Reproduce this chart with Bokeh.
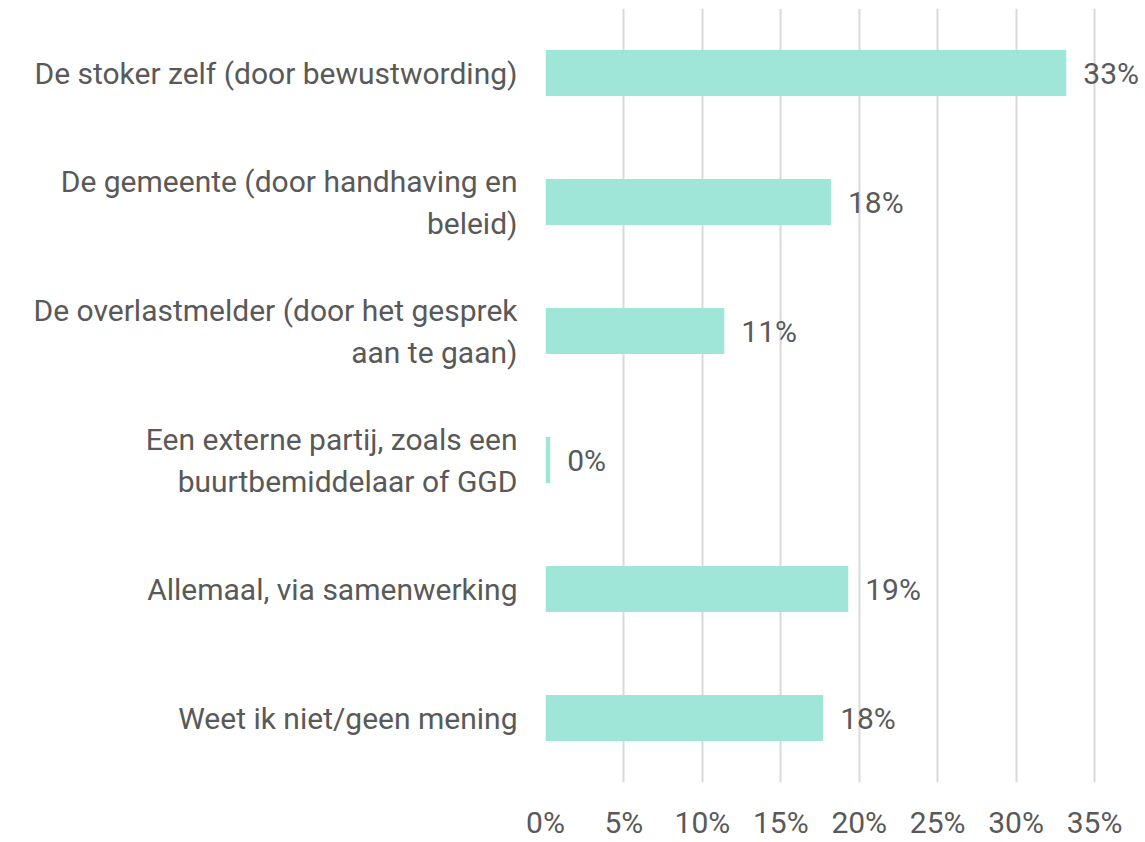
from bokeh.plotting import figure
from bokeh.models import FactorRange, Range1d, FixedTicker, CustomJSTickFormatter
from bokeh.core.properties import value
from bokeh.embed import file_html
from bokeh.resources import INLINE

categories = [
    "De stoker zelf (door bewustwording)",
    "De gemeente (door handhaving en\nbeleid)",
    "De overlastmelder (door het gesprek\naan te gaan)",
    "Een externe partij, zoals een\nbuurtbemiddelaar of GGD",
    "Allemaal, via samenwerking",
    "Weet ik niet/geen mening",
]
values = [33.2, 18.2, 11.4, 0.3, 19.3, 17.7]
value_labels = ["33%", "18%", "11%", "0%", "19%", "18%"]
x_ticks = [0, 5, 10, 15, 20, 25, 30, 35]

FONT = "Roboto"
TEXT_COLOR = "#595959"
FS = "30px"

p = figure(
    width=1145, height=842,
    y_range=FactorRange(factors=categories[::-1], range_padding=0),
    x_range=Range1d(0, 38.25),
    output_backend="svg", toolbar_location=None,
    min_border_left=545, min_border_right=0, min_border_top=8, min_border_bottom=59,
)
p.outline_line_color = None
p.background_fill_color = "white"
p.border_fill_color = "white"

p.hbar(y=categories, right=values, left=0, height=0.355, color="#a0e6d8", line_color=None)
p.text(x=values, y=categories, text=value_labels, x_offset=17,
       text_baseline="middle", text_align="left",
       text_font=value(FONT), text_font_size=FS, text_color=TEXT_COLOR)

p.xaxis.ticker = FixedTicker(ticks=x_ticks)
p.xaxis.formatter = CustomJSTickFormatter(code="return tick + '%';")
p.xaxis.axis_line_color = None
p.xaxis.major_tick_line_color = None
p.xaxis.minor_tick_line_color = None
p.xaxis.major_label_text_font = FONT
p.xaxis.major_label_text_font_size = FS
p.xaxis.major_label_text_color = TEXT_COLOR
p.xaxis.major_label_standoff = 16

p.yaxis.axis_line_color = None
p.yaxis.major_tick_line_color = None
p.yaxis.minor_tick_line_color = None
p.yaxis.major_label_text_font = FONT
p.yaxis.major_label_text_font_size = FS
p.yaxis.major_label_text_color = TEXT_COLOR
p.yaxis.major_label_standoff = 22

p.xgrid.grid_line_color = "#d9d9d9"
p.xgrid.grid_line_width = 2
p.ygrid.grid_line_color = None

open("out.html", "w").write(file_html(p, INLINE))
